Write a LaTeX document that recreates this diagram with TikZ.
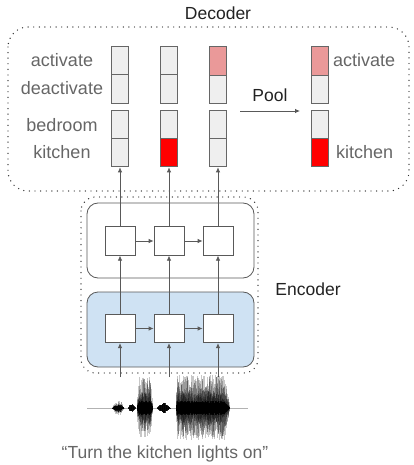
\documentclass[tikz,border=0pt]{standalone}
\usepackage{fontspec}
\setmainfont{Liberation Sans}
\usetikzlibrary{arrows.meta}
\definecolor{cellgray}{HTML}{EFEFEF}
\definecolor{cellline}{HTML}{666666}
\definecolor{pinkc}{HTML}{EA9999}
\definecolor{redc}{HTML}{FF0000}
\definecolor{bluec}{HTML}{CFE2F3}
\definecolor{labgray}{HTML}{666666}
\definecolor{linec}{HTML}{595959}
\definecolor{titlec}{HTML}{222222}
\begin{document}
\begin{tikzpicture}[x=1pt,y=-1pt,
  cell/.style={rectangle,draw=cellline,fill=cellgray,line width=0.9pt,minimum width=17pt,minimum height=28.3pt,inner sep=0pt},
  sq/.style={rectangle,draw=linec,fill=white,line width=0.8pt,minimum width=30pt,minimum height=28.5pt,inner sep=0pt},
  lab/.style={text=labgray,font=\fontsize{18}{20}\selectfont,anchor=base,inner sep=0pt},
  ttl/.style={text=titlec,font=\fontsize{17.5}{20}\selectfont,anchor=base,inner sep=0pt},
  arr/.style={draw=linec,line width=0.8pt,-{Latex[length=5pt,width=4.5pt]}},
  dots/.style={draw=black!80,line width=1.4pt,dash pattern=on 0pt off 5.6pt,line cap=round},
  encbox/.style={draw=linec,line width=0.8pt,rounded corners=11pt},
  wav/.style={draw=black,opacity=0.22,line width=0.4pt},
  core/.style={draw=black,opacity=0.8,line width=0.45pt}]
\useasboundingbox (0,0) rectangle (414,465);

% Decoder frame
\draw[dots,rounded corners=20pt] (8,27) rectangle (409,191);
\node[ttl] (dec) at (218,20) {Decoder};

% Decoder columns
\foreach \n/\cx in {1/120,2/169,3/218,4/319.5}{
  \node[cell] (c\n a) at (\cx,61) {};
  \node[cell] (c\n b) at (\cx,89) {};
  \node[cell] (c\n c) at (\cx,124.3) {};
  \node[cell] (c\n d) at (\cx,152.7) {};
}
\node[cell,fill=pinkc] at (c3a) {};
\node[cell,fill=pinkc] at (c4a) {};
\node[cell,fill=redc] at (c2d) {};
\node[cell,fill=redc] at (c4d) {};

% labels
\node[lab] (l1) at (62,67) {activate};
\node[lab] (l2) at (62,95) {deactivate};
\node[lab] (l3) at (62,132) {bedroom};
\node[lab] (l4) at (62,159) {kitchen};
\node[lab,anchor=base west] (r1) at (333,67) {activate};
\node[lab,anchor=base west] (r2) at (336,159) {kitchen};

% Pool
\coordinate (p0) at (240,111);
\coordinate (p1) at (300,111);
\draw[arr] (p0) -- (p1);
\node[ttl] (pool) at (270,102) {Pool};

% Encoder frame
\draw[dots,rounded corners=14pt] (81,197) rectangle (258,373);
\node[ttl] (enc) at (308,295) {Encoder};
\draw[encbox,fill=white] (87,203) rectangle (254,278);
\draw[encbox,fill=bluec] (87,292) rectangle (254,367);

\foreach \n/\cx in {1/120,2/169,3/218}{
  \node[sq] (t\n) at (\cx,241) {};
  \node[sq] (b\n) at (\cx,328.5) {};
  \coordinate (in\n) at (\cx,377);
  \draw[arr] (in\n) -- (b\n.south);
  \draw[arr] (b\n.north) -- (t\n.south);
  \draw[arr] (t\n.north) -- (c\n d.south);
}
\draw[arr] (t1.east) -- (t2.west);
\draw[arr] (t2.east) -- (t3.west);
\draw[arr] (b1.east) -- (b2.west);
\draw[arr] (b2.east) -- (b3.west);

% Waveform
\draw[black!30,line width=0.4pt] (87,408) -- (248,408);
\pgfmathsetseed{42}
% small blob 1
\foreach \x in {112,112.3,...,124}{
  \pgfmathsetmacro{\e}{sin(180*(\x-112)/12)}
  \pgfmathsetmacro{\h}{8*\e*(0.4+0.6*rnd)}
  \pgfmathsetmacro{\g}{8*\e*(0.4+0.6*rnd)}
  \draw[wav] (\x,{408-\h}) -- (\x,{408+\g});
  \draw[core] (\x,{408-0.5*\h}) -- (\x,{408+0.5*\g});
}
% small blob 2
\foreach \x in {128,128.4,...,135}{
  \pgfmathsetmacro{\e}{sin(180*(\x-128)/7)}
  \pgfmathsetmacro{\h}{3.5*\e*(0.5+0.5*rnd)+0.5}
  \draw[core] (\x,{408-\h}) -- (\x,{408+\h});
}
% big blob 3
\foreach \x in {137,137.25,...,152.5}{
  \pgfmathsetmacro{\e}{min(1,(\x-136)/3)*min(1,(153-\x)/3)}
  \pgfmathsetmacro{\h}{31*\e*(0.3+0.7*rnd)}
  \pgfmathsetmacro{\g}{30*\e*(0.3+0.7*rnd)}
  \pgfmathsetmacro{\m}{16*\e*(0.3+0.7*rnd)}
  \pgfmathsetmacro{\c}{7*\e*(0.6+0.4*rnd)}
  \draw[wav] (\x,{408-\h}) -- (\x,{408+\g});
  \draw[wav] (\x,{408-\m}) -- (\x,{408+\m});
  \draw[core] (\x,{408-\c}) -- (\x,{408+\c});
}
% small blob 4
\foreach \x in {157,157.4,...,170}{
  \pgfmathsetmacro{\e}{sin(180*(\x-157)/13)}
  \pgfmathsetmacro{\h}{5*\e*(0.5+0.5*rnd)+0.3}
  \draw[core] (\x,{408-\h}) -- (\x,{408+\h});
}
% big blob 5
\foreach \x in {176,176.25,...,229}{
  \pgfmathsetmacro{\e}{min(1,(\x-175)/2)*min(1,(230-\x)/6)}
  \pgfmathsetmacro{\h}{33*\e*(0.35+0.65*rnd)}
  \pgfmathsetmacro{\g}{32*\e*(0.35+0.65*rnd)}
  \pgfmathsetmacro{\m}{17*\e*(0.3+0.7*rnd)}
  \pgfmathsetmacro{\c}{7*\e*(0.6+0.4*rnd)}
  \draw[wav] (\x,{408-\h}) -- (\x,{408+\g});
  \draw[wav] (\x,{408-\m}) -- (\x,{408+\m});
  \draw[core] (\x,{408-\c}) -- (\x,{408+\c});
}

% caption
\node[lab,font=\fontsize{17.5}{20}\selectfont] (cap) at (165,458) {“Turn the kitchen lights on”};
\end{tikzpicture}
\end{document}
